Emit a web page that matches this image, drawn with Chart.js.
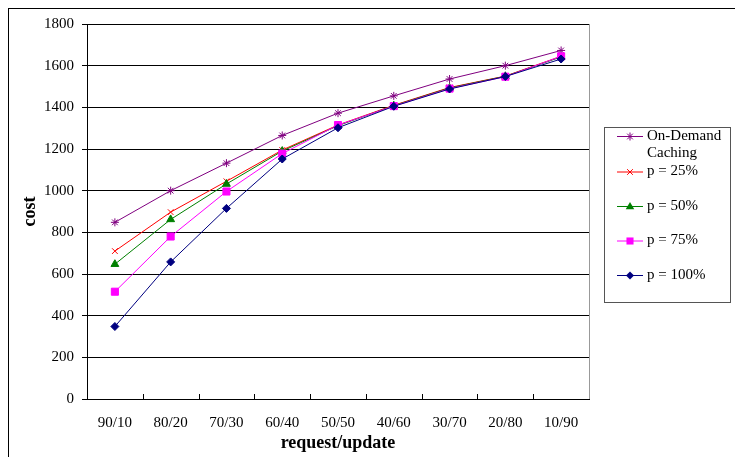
<!DOCTYPE html>
<html>
<head>
<meta charset="utf-8">
<script src="https://cdn.jsdelivr.net/npm/chart.js@4/dist/chart.umd.min.js"></script>
<style>
  html, body { margin: 0; padding: 0; background: #fff; }
  #wrap { width: 735px; height: 457px; position: relative; }
</style>
</head>
<body>
<div id="wrap"><canvas id="c" width="735" height="457"></canvas></div>
<script>
// request/update ratios on the x axis
const categories = ['90/10', '80/20', '70/30', '60/40', '50/50', '40/60', '30/70', '20/80', '10/90'];

// cost per scheme
const onDemand = [848, 1000, 1132, 1265, 1372, 1455, 1536, 1600, 1673];
const p25      = [710, 897, 1045, 1195, 1315, 1410, 1495, 1550, 1645];
const p50      = [647, 862, 1032, 1190, 1312, 1408, 1493, 1549, 1642];
const p75      = [515, 780, 996, 1178, 1315, 1406, 1490, 1547, 1645];
const p100     = [348, 658, 915, 1152, 1302, 1405, 1488, 1548, 1632];

const yTicks = [0, 200, 400, 600, 800, 1000, 1200, 1400, 1600, 1800];

const SERIF = '"Liberation Serif", "Times New Roman", serif';

function series(label, data, color, style, radius, order) {
  return {
    label, data, order,
    borderColor: color, backgroundColor: color,
    borderWidth: 1,
    pointStyle: style, pointRadius: radius, pointHoverRadius: radius,
    pointBorderColor: color, pointBackgroundColor: color, pointBorderWidth: 1,
    tension: 0, fill: false
  };
}

const datasets = [
  series(['On-Demand', 'Caching'], onDemand, '#800080', 'star', 4, 5),
  series('p = 25%', p25, '#FF0000', 'crossRot', 4, 4),
  series('p = 50%', p50, '#008000', 'triangle', 4.5, 3),
  series('p = 75%', p75, '#FF00FF', 'rect', 5, 2),
  series('p = 100%', p100, '#000080', 'rectRot', 4, 1)
];

// small marker drawer for the legend samples
function drawMarker(ctx, style, x, y, r, color) {
  ctx.save();
  ctx.fillStyle = color; ctx.strokeStyle = color; ctx.lineWidth = 1;
  ctx.beginPath();
  if (style === 'rect') {
    const s = r * Math.SQRT1_2;
    ctx.rect(x - s, y - s, 2 * s, 2 * s); ctx.fill();
  } else if (style === 'rectRot') {
    ctx.moveTo(x, y - r); ctx.lineTo(x + r, y); ctx.lineTo(x, y + r); ctx.lineTo(x - r, y); ctx.closePath(); ctx.fill();
  } else if (style === 'triangle') {
    ctx.moveTo(x, y - r); ctx.lineTo(x + r * 0.95, y + r * 0.6); ctx.lineTo(x - r * 0.95, y + r * 0.6); ctx.closePath(); ctx.fill();
  } else if (style === 'crossRot') {
    const s = r * Math.SQRT1_2;
    ctx.moveTo(x - s, y - s); ctx.lineTo(x + s, y + s); ctx.moveTo(x + s, y - s); ctx.lineTo(x - s, y + s); ctx.stroke();
  } else if (style === 'star') {
    const s = r * Math.SQRT1_2;
    ctx.moveTo(x - s, y - s); ctx.lineTo(x + s, y + s); ctx.moveTo(x + s, y - s); ctx.lineTo(x - s, y + s);
    ctx.moveTo(x, y - r); ctx.lineTo(x, y + r); ctx.moveTo(x - r, y); ctx.lineTo(x + r, y);
    ctx.stroke();
  }
  ctx.restore();
}

const frame = {
  id: 'frame',
  beforeDraw(chart) {
    const ctx = chart.ctx;
    ctx.save();
    ctx.fillStyle = '#fff';
    ctx.fillRect(0, 0, chart.width, chart.height);
    ctx.strokeStyle = '#000'; ctx.lineWidth = 1;
    ctx.strokeRect(8.5, 8.5, chart.width + 20, chart.height + 20);
    ctx.restore();
  },
  afterDatasetsDraw(chart) {
    const ctx = chart.ctx;
    const a = chart.chartArea;
    const xs = chart.scales.x;
    ctx.save();
    // right edge of the plot area
    ctx.strokeStyle = '#999'; ctx.lineWidth = 1;
    ctx.beginPath();
    ctx.moveTo(Math.round(a.right) + 0.5, a.top); ctx.lineTo(Math.round(a.right) + 0.5, a.bottom);
    ctx.stroke();
    // inner tick marks between categories
    ctx.strokeStyle = '#000';
    ctx.beginPath();
    for (let i = 1; i < categories.length; i++) {
      const x = Math.round((xs.getPixelForValue(i - 1) + xs.getPixelForValue(i)) / 2) + 0.5;
      ctx.moveTo(x, a.bottom); ctx.lineTo(x, a.bottom - 5);
    }
    ctx.stroke();
    ctx.restore();
  },
  afterDraw(chart) {
    const ctx = chart.ctx;
    ctx.save();
    // legend box
    ctx.fillStyle = '#fff';
    ctx.fillRect(604, 127, 126, 175);
    ctx.strokeStyle = '#555'; ctx.lineWidth = 1;
    ctx.strokeRect(604.5, 127.5, 126, 175);
    const rows = [136, 171.5, 206, 240.5, 275];
    ctx.font = '15px ' + SERIF;
    ctx.textBaseline = 'middle';
    chart.data.datasets.forEach((ds, i) => {
      const y = rows[i];
      ctx.strokeStyle = ds.borderColor; ctx.lineWidth = 1;
      ctx.beginPath(); ctx.moveTo(617, y + 0.5); ctx.lineTo(643, y + 0.5); ctx.stroke();
      drawMarker(ctx, ds.pointStyle, 630, y + 0.5, ds.pointRadius, ds.borderColor);
      ctx.fillStyle = '#000';
      const lines = Array.isArray(ds.label) ? ds.label : [ds.label];
      lines.forEach((t, k) => ctx.fillText(t, 647, y + k * 17));
    });
    ctx.restore();
  }
};

new Chart(document.getElementById('c'), {
  type: 'line',
  data: { labels: categories, datasets },
  plugins: [frame],
  options: {
    responsive: false,
    animation: false,
    layout: { padding: { left: 0, right: 146, top: 24, bottom: 0 } },
    plugins: { legend: { display: false }, tooltip: { enabled: false } },
    scales: {
      x: {
        offset: true,
        grid: { display: false },
        border: { display: true, color: '#000', width: 1 },
        ticks: { color: '#000', font: { family: SERIF, size: 15 }, padding: 7, maxRotation: 0 },
        title: { display: true, text: 'request/update', color: '#000',
                 font: { family: SERIF, size: 18, weight: 'bold' }, padding: { top: 0, bottom: 3 } },
        afterFit(s) { s.height = 58; }
      },
      y: {
        min: 0, max: 1800,
        afterBuildTicks(s) { s.ticks = yTicks.map(v => ({ value: v })); },
        grid: { color: '#000', lineWidth: 1, drawTicks: true, tickLength: 5, tickColor: '#000' },
        border: { display: true, color: '#000', width: 1 },
        ticks: { color: '#000', font: { family: SERIF, size: 15 }, padding: 8, callback: v => String(v) },
        title: { display: true, text: 'cost', color: '#000',
                 font: { family: SERIF, size: 18, weight: 'bold' }, padding: { top: 20, bottom: 0 } },
        afterFit(s) { s.width = 87; }
      }
    }
  }
});
</script>
</body>
</html>
